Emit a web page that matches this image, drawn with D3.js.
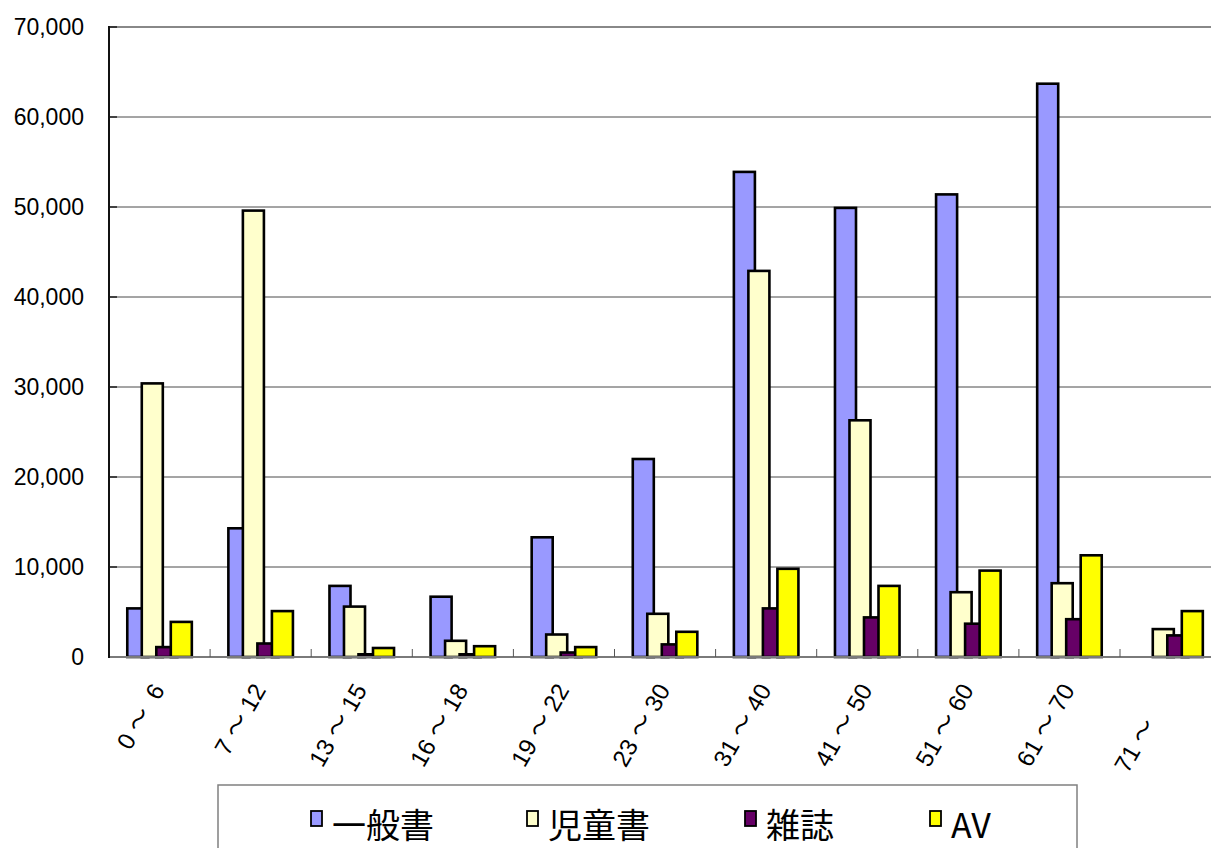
<!DOCTYPE html>
<html>
<head>
<meta charset="utf-8">
<script src="https://cdn.jsdelivr.net/npm/d3@7"></script>
<style>
  html, body { margin: 0; padding: 0; background: #fff; }
  svg { display: block; }
</style>
</head>
<body>
<svg id="chart" width="1211" height="848"></svg>
<script>
// ---- data ----
const categories = ["0 ～  6", "7 ～ 12", "13 ～ 15", "16 ～ 18", "19 ～ 22", "23 ～ 30", "31 ～ 40", "41 ～ 50", "51 ～ 60", "61 ～ 70", "71 ～      "];
const seriesNames = ["一般書", "児童書", "雑誌", "AV"];
const ippan  = [5400, 14300, 7900, 6700, 13300, 22000, 53900, 49900, 51400, 63700, 0];
const jido   = [30400, 49600, 5600, 1800, 2500, 4800, 42900, 26300, 7200, 8200, 3100];
const zasshi = [1100, 1500, 300, 300, 500, 1400, 5400, 4400, 3700, 4200, 2400];
const av     = [3900, 5100, 1000, 1200, 1100, 2800, 9800, 7900, 9600, 11300, 5100];
const yTicks = [0, 10000, 20000, 30000, 40000, 50000, 60000, 70000];
const seriesColors = ["#9999FF", "#FFFFCC", "#660066", "#FFFF00"];

const seriesValues = [ippan, jido, zasshi, av];

// ---- layout ----
const svg = d3.select("#chart");
const plotLeft = 109, plotTop = 27, plotBottom = 657;
const groupW = 101.1;
const plotRight = plotLeft + groupW * categories.length;

const x = d3.scaleBand().domain(categories).range([plotLeft, plotRight]).padding(0);
const y = d3.scaleLinear().domain([0, 70000]).range([plotBottom, plotTop]);

const bw = x.bandwidth();
const barW = bw * 0.208;
const step = bw * 0.1435;
const startOff = bw / 2 - (3 * step + barW) / 2;

// gridlines
svg.append("g").selectAll("line").data(yTicks.filter(d => d > 0 && d < 70000)).join("line")
  .attr("x1", plotLeft).attr("x2", plotRight)
  .attr("y1", d => y(d)).attr("y2", d => y(d))
  .attr("stroke", "#4a4a4a").attr("stroke-width", 1);

// plot area top border
svg.append("line").attr("x1", plotLeft).attr("x2", plotRight)
  .attr("y1", y(70000)).attr("y2", y(70000))
  .attr("stroke", "#888").attr("stroke-width", 2);

// y axis ticks (inside)
svg.append("g").selectAll("line").data(yTicks).join("line")
  .attr("x1", plotLeft).attr("x2", plotLeft + 8)
  .attr("y1", d => y(d)).attr("y2", d => y(d))
  .attr("stroke", "#000").attr("stroke-width", 1.2);

// y labels
const fmt = d3.format(",");
svg.append("g").selectAll("text").data(yTicks).join("text")
  .attr("x", 84).attr("y", d => y(d))
  .attr("dy", "0.36em")
  .attr("text-anchor", "end")
  .attr("font-family", "Liberation Sans, Arial, sans-serif")
  .attr("font-size", 23)
  .attr("fill", "#000")
  .text(d => fmt(d));

// bars
seriesValues.forEach((vals, si) => {
  svg.append("g").selectAll("rect").data(categories).join("rect")
    .attr("x", (c) => x(c) + startOff + si * step)
    .attr("width", barW)
    .attr("y", (c, i) => y(vals[i]))
    .attr("height", (c, i) => y(0) - y(vals[i]))
    .attr("fill", seriesColors[si])
    .attr("stroke", "#000")
    .attr("stroke-width", 2.6)
    .style("display", (c, i) => vals[i] > 0 ? null : "none");
});

// baseline
svg.append("line").attr("x1", plotLeft).attr("x2", plotRight)
  .attr("y1", plotBottom).attr("y2", plotBottom)
  .attr("stroke", "#7a7a7a").attr("stroke-width", 2);

// category ticks (between groups, inside)
svg.append("g").selectAll("line").data(categories.slice(1)).join("line")
  .attr("x1", c => x(c)).attr("x2", c => x(c))
  .attr("y1", plotBottom).attr("y2", plotBottom - 8)
  .attr("stroke", "#555").attr("stroke-width", 1);

// left axis line
svg.append("line").attr("x1", plotLeft).attr("x2", plotLeft)
  .attr("y1", plotTop - 1).attr("y2", plotBottom + 1)
  .attr("stroke", "#111").attr("stroke-width", 2);

// x labels rotated
svg.append("g").selectAll("text").data(categories).join("text")
  .attr("transform", c => `translate(${x(c) + bw / 2 + 6},${690}) rotate(-60)`)
  .attr("text-anchor", "end")
  .attr("font-family", "Liberation Sans, 'Noto Sans CJK JP', sans-serif")
  .attr("font-size", 24)
  .attr("fill", "#000")
  .style("white-space", "pre")
  .text(c => c);

// legend
svg.append("rect").attr("x", 218).attr("y", 785).attr("width", 859).attr("height", 80)
  .attr("fill", "#fff").attr("stroke", "#808080").attr("stroke-width", 1.5);

const legendX = [311, 527, 745, 930];
const lg = svg.append("g").selectAll("g").data(seriesNames).join("g")
  .attr("transform", (d, i) => `translate(${legendX[i]},0)`);
lg.append("rect").attr("x", 0).attr("y", 811).attr("width", 11).attr("height", 15)
  .attr("fill", (d, i) => seriesColors[i]).attr("stroke", "#000").attr("stroke-width", 1.8);
lg.append("text").attr("x", 21).attr("y", 838)
  .attr("font-family", "'Noto Sans CJK JP', sans-serif")
  .attr("font-size", 34)
  .attr("fill", "#000")
  .text(d => d);
</script>
</body>
</html>
